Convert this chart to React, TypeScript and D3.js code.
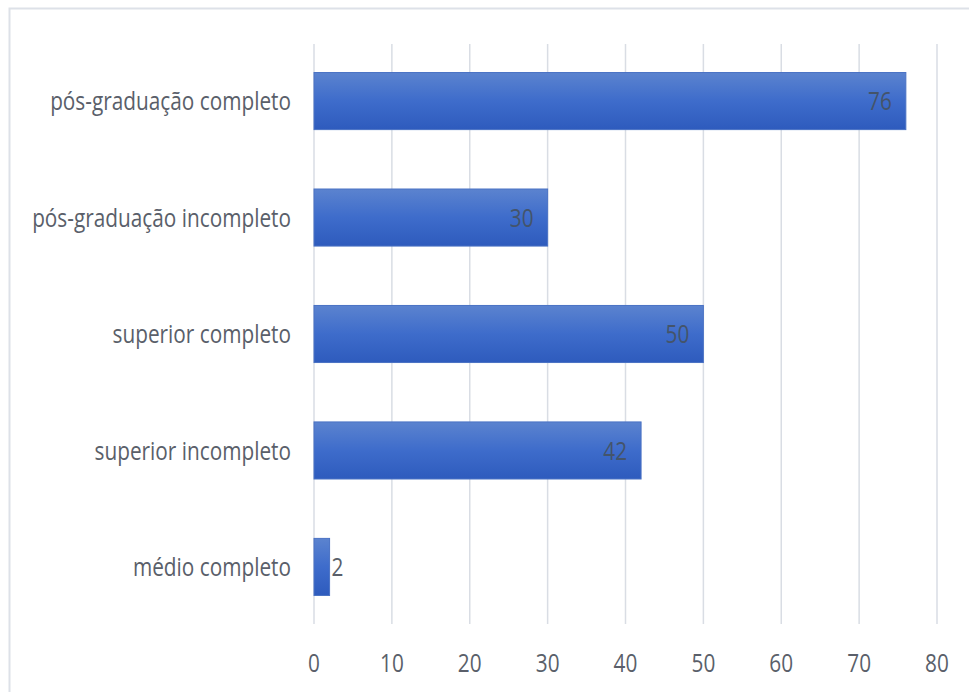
import React from "react";
import * as d3 from "d3";

const categories = [
  "pós-graduação completo",
  "pós-graduação incompleto",
  "superior completo",
  "superior incompleto",
  "médio completo",
];
const values = [76, 30, 50, 42, 2];
const ticks = [0, 10, 20, 30, 40, 50, 60, 70, 80];

const W = 969;
const H = 692;
const SX = 0.8;
const font = "'Open Sans', sans-serif";

function Label(props: {
  x: number;
  y: number;
  anchor: "start" | "middle" | "end";
  fill: string;
  dy?: string;
  children: React.ReactNode;
}) {
  return (
    <g transform={`translate(${props.x},${props.y}) scale(${SX},1)`}>
      <text
        x={0}
        y={0}
        dy={props.dy}
        textAnchor={props.anchor}
        fontFamily={font}
        fontSize={26}
        fill={props.fill}
      >
        {props.children}
      </text>
    </g>
  );
}

export default function App() {
  const x = d3.scaleLinear().domain([0, 80]).range([314, 937]);
  const y = d3
    .scaleBand<string>()
    .domain(categories)
    .range([44, 624])
    .paddingInner(0.51)
    .paddingOuter(0.245);
  return (
    <svg
      width={W}
      height={H}
      style={{ position: "absolute", left: 0, top: 0, display: "block", background: "#fff" }}
    >
      <defs>
        <linearGradient id="barGrad" x1="0" y1="0" x2="0" y2="1">
          <stop offset="0%" stopColor="#5b83cf" />
          <stop offset="50%" stopColor="#3e6ccb" />
          <stop offset="100%" stopColor="#2e5bbd" />
        </linearGradient>
      </defs>
      <rect x={9.5} y={8.5} width={W + 10} height={H + 10} fill="none" stroke="#dde1e8" strokeWidth={2} />
      {ticks.map((t) => (
        <line key={"g" + t} x1={x(t)} x2={x(t)} y1={44} y2={624} stroke="#d9dde4" strokeWidth={1.5} />
      ))}
      {ticks.map((t) => (
        <Label key={"t" + t} x={x(t)} y={672} anchor="middle" fill="#5a5f6a">
          {t}
        </Label>
      ))}
      {categories.map((c, i) => {
        const v = values[i];
        const y0 = y(c)!;
        const bw = y.bandwidth();
        const x1 = x(v);
        const inside = x1 - x(0) > 40;
        return (
          <g key={c}>
            <rect
              x={x(0)}
              y={y0}
              width={x1 - x(0)}
              height={bw}
              fill="url(#barGrad)"
              stroke="#4a72c4"
              strokeWidth={1}
            />
            <Label x={291} y={y0 + bw / 2} dy="0.35em" anchor="end" fill="#5a5f6a">
              {c}
            </Label>
            <Label
              x={inside ? x1 - 14 : x1 + 2}
              y={y0 + bw / 2}
              dy="0.35em"
              anchor={inside ? "end" : "start"}
              fill={inside ? "#44546a" : "#5a5f6a"}
            >
              {v}
            </Label>
          </g>
        );
      })}
    </svg>
  );
}
